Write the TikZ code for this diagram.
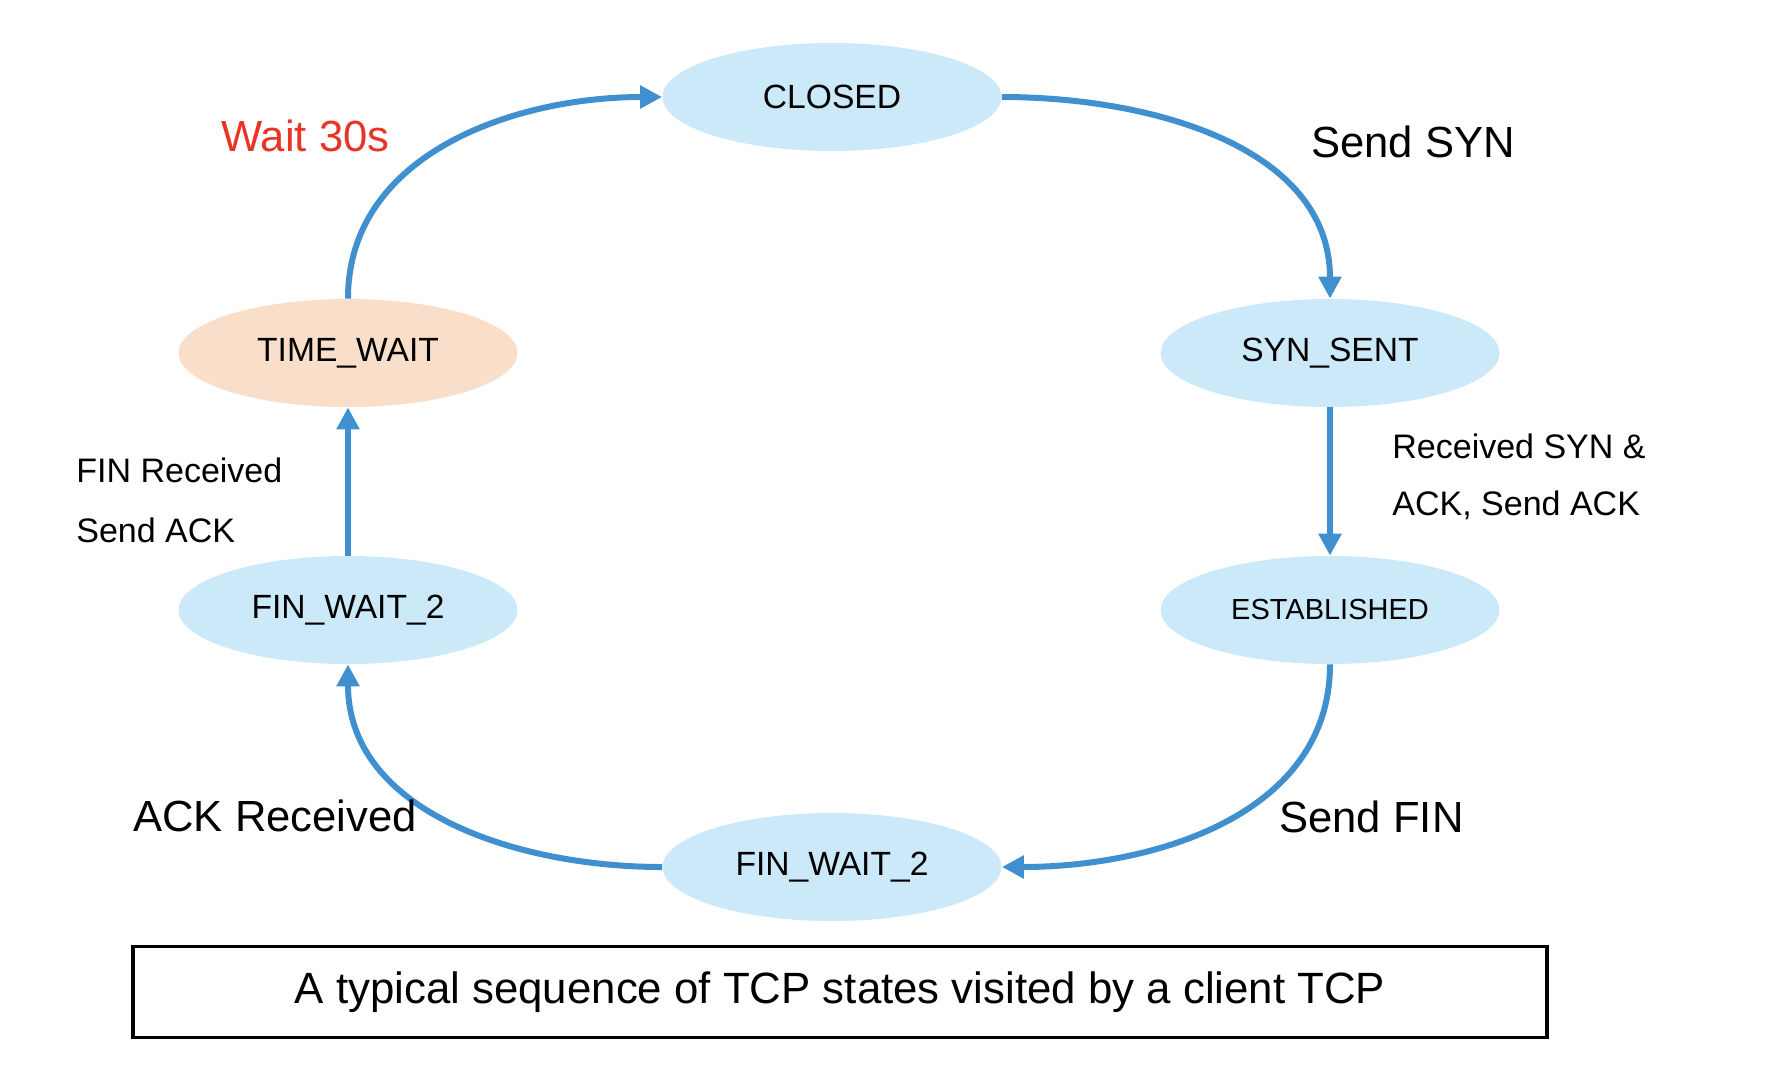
\documentclass[tikz,border=0pt]{standalone}
\usepackage{xcolor}
\usepackage{fontspec}
\setmainfont{Liberation Sans}
\usepackage{tikz}
\usetikzlibrary{shapes, arrows.meta}
\usetikzlibrary{positioning}

\definecolor{stateblue}{RGB}{204,233,250}
\definecolor{statepeach}{RGB}{249,222,202}
\definecolor{flowblue}{RGB}{64,143,206}
\definecolor{waitred}{RGB}{232,52,37}

\begin{document}
\begin{tikzpicture}[
        x=0.5pt, y=-0.5pt,
        state/.style={ellipse, fill=stateblue, minimum width=169.5pt, minimum height=54pt, font=\fontsize{16.8}{20}\selectfont},
        flow/.style={draw=flowblue, line width=3pt, -{Triangle[length=11pt,width=11pt]}},
        bignote/.style={anchor=west, inner sep=0pt, font=\fontsize{21.8}{26}\selectfont},
        smallnote/.style={anchor=west, inner sep=0pt, font=\fontsize{17}{20}\selectfont}
    ]
    \useasboundingbox (0,0) rectangle (1772,1072);

    % states
    \node[state] (closed) at (832,97) {CLOSED};
    \node[state] (synsent) at (1330,353) {SYN\_SENT};
    \node[state, font=\fontsize{14.5}{17}\selectfont] (estab) at (1330,610) {ESTABLISHED};
    \node[state] (finwaitA) at (832,867) {FIN\_WAIT\_2};
    \node[state] (finwaitB) at (348,610) {FIN\_WAIT\_2};
    \node[state, fill=statepeach] (timewait) at (348,353) {TIME\_WAIT};

    % transitions
    \draw[flow] (timewait.north) to[out=90, in=180] (closed.west);
    \draw[flow] (closed.east) to[out=0, in=90] (synsent.north);
    \draw[flow] (synsent.south) -- (estab.north);
    \draw[flow] (estab.south) to[out=-90, in=0] (finwaitA.east);
    \draw[flow] (finwaitA.west) to[out=180, in=-90] (finwaitB.south);
    \draw[flow] (finwaitB.north) -- (timewait.south);

    % labels
    \node[bignote, text=waitred] (lwait) at (221,136) {Wait 30s};
    \node[bignote] (lsyn) at (1311,142) {Send SYN};
    \node[smallnote] (lrecA) at (1392,446) {Received SYN \&};
    \node[smallnote] (lrecB) at (1392,505) {ACK, Send ACK};
    \node[smallnote] (lfinA) at (76,470) {FIN Received};
    \node[smallnote] (lfinB) at (76,530) {Send ACK};
    \node[bignote] (lack) at (133,816) {ACK Received};
    \node[bignote] (lfin) at (1279,817) {Send FIN};

    % caption
    \node[draw, line width=1.7pt, minimum width=707pt, minimum height=45.5pt, font=\fontsize{21.9}{26}\selectfont] (caption) at (840,992) {A typical sequence of TCP states visited by a client TCP};
\end{tikzpicture}
\end{document}
